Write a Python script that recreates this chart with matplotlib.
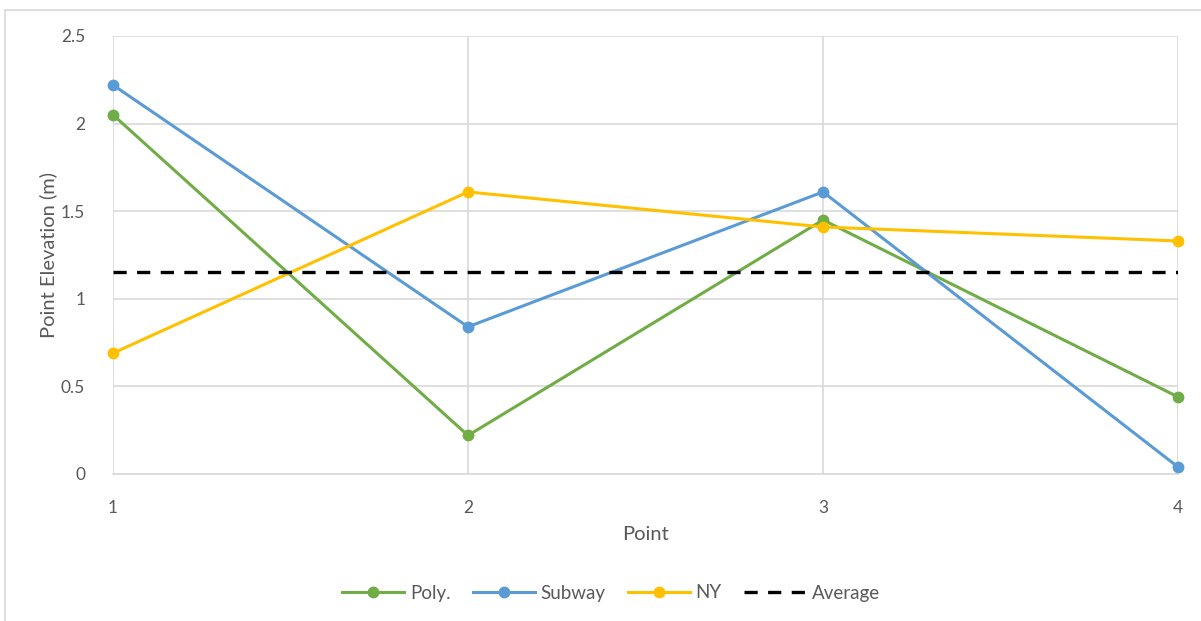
import matplotlib
matplotlib.use("Agg")
import matplotlib.pyplot as plt
from matplotlib.patches import Rectangle
from matplotlib.lines import Line2D

# Point elevations (m) for each survey
points = [1, 2, 3, 4]
poly = [2.05, 0.22, 1.45, 0.44]
subway = [2.22, 0.84, 1.61, 0.04]
ny = [0.69, 1.61, 1.41, 1.33]
average = 1.155
y_ticks = [0, 0.5, 1, 1.5, 2, 2.5]
y_tick_labels = ["0", "0.5", "1", "1.5", "2", "2.5"]

plt.rcParams['font.family'] = ['Lato', 'DejaVu Sans']
plt.rcParams['lines.scale_dashes'] = False
text_color = "#595959"
grid_color = "#D9D9D9"

W, H = 1201, 621
fig = plt.figure(figsize=(W / 100, H / 100), dpi=100)

# plot area in pixel coordinates
left, right, top, bottom = 113, 1178, 36, 474
ax = fig.add_axes([left / W, 1 - bottom / H, (right - left) / W, (bottom - top) / H])

# chart-area frame
fig.patches.append(Rectangle((5 / W, -0.1), 1.2, 1 - 10 / H + 0.1,
                             transform=fig.transFigure, fill=False,
                             edgecolor=grid_color, linewidth=1.2))

series = [("Poly.", poly, "#70AD47"),
          ("Subway", subway, "#5B9BD5"),
          ("NY", ny, "#FFC000")]
for name, vals, col in series:
    ax.plot(points, vals, color=col, linewidth=2.2, marker="o",
            markersize=7.5, label=name, zorder=3, clip_on=False)

ax.plot([points[0], points[-1]], [average, average], color="black",
        linewidth=2.4, dashes=(9.5, 7.5), label="Average", zorder=4)

ax.set_xlim(1, 4)
ax.set_ylim(0, 2.5)
ax.set_xticks(points)
ax.set_yticks(y_ticks)
ax.set_yticklabels(y_tick_labels)
ax.grid(True, color=grid_color, linewidth=1.2, zorder=0)
ax.set_axisbelow(True)
for sp in ax.spines.values():
    sp.set_visible(False)
ax.spines['bottom'].set_visible(True)
ax.spines['bottom'].set_color(grid_color)
ax.spines['bottom'].set_linewidth(1.2)
ax.tick_params(length=0, labelsize=12.5, colors=text_color)
ax.tick_params(axis='y', pad=20)
ax.tick_params(axis='x', pad=19)

ax.set_xlabel("Point", fontsize=14.5, color=text_color, labelpad=7)
ax.set_ylabel("Point Elevation (m)", fontsize=14.5, color=text_color, labelpad=3)

handles = [Line2D([0], [0], color=c, linewidth=2.2, marker="o", markersize=7.5)
           for _, _, c in series]
handles.append(Line2D([0], [0], color="black", linewidth=2.4, dashes=(9.5, 7.5)))
labels = [s[0] for s in series] + ["Average"]
fig.legend(handles, labels, loc="center", bbox_to_anchor=(611 / W, 1 - 593 / H),
           ncol=4, frameon=False, fontsize=13.5, handlelength=3.3,
           columnspacing=1.2, handletextpad=0.3, labelcolor=text_color)

fig.savefig("out.png", dpi=100)
